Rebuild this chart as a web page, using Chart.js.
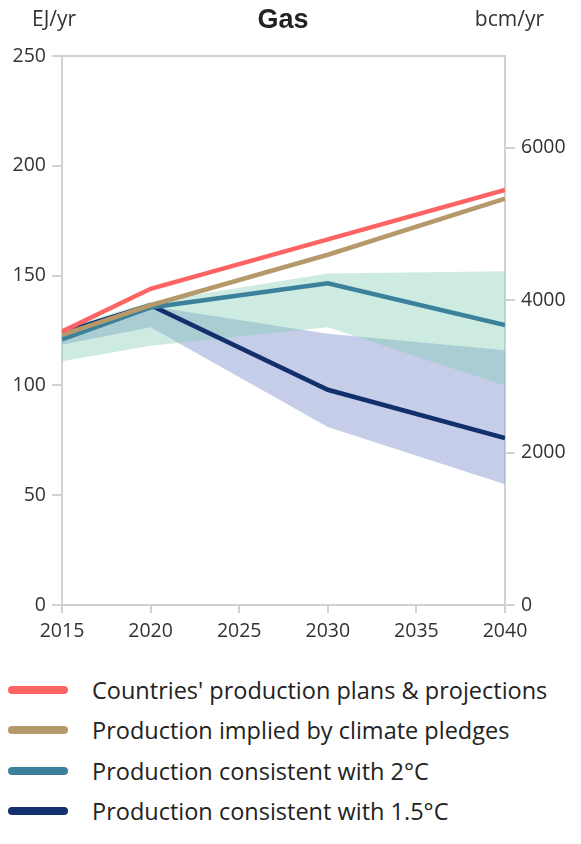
<!DOCTYPE html>
<html>
<head>
<meta charset="utf-8">
<script src="https://cdn.jsdelivr.net/npm/chart.js@4"></script>
<style>
  body { margin: 0; background: #fff; font-family: "Open Sans", sans-serif; }
  #wrap { width: 581px; height: 650px; }
  #legend { list-style: none; margin: 20px 0 0 0; padding: 0; }
  #legend li { position: relative; height: 40.3px; line-height: 40.3px; padding-left: 92px; font-size: 23.5px; color: #222; white-space: nowrap; }
  #legend li span { position: absolute; left: 8px; top: 16px; width: 60px; height: 8px; border-radius: 4px; }
</style>
</head>
<body>
<div id="wrap"><canvas id="chart" width="581" height="650"></canvas></div>
<ul id="legend"></ul>
<script>
// Gas production, EJ/yr (left) with bcm/yr on the right
const years = [2015, 2020, 2030, 2040];

const plans       = [124.5, 144, 166.5, 189];
const pledges     = [123, 136.5, 159.5, 185];
const twoDegrees  = [121, 135.5, 146.5, 127.5];
const onePointFive = [124, 136.5, 98, 76];

// ranges around the 2°C and 1.5°C pathways
const twoUpper = [126, 138, 151, 152];
const twoLower = [111, 118, 126.5, 100];
const oneFiveUpper = [124, 136, 123.5, 116];
const oneFiveLower = [118.5, 126.5, 81, 55];

const leftTicks = [0, 50, 100, 150, 200, 250];
const rightTicks = [0, 2000, 4000, 6000];
const xTicks = [2015, 2020, 2025, 2030, 2035, 2040];

const seriesNames = [
    "Countries' production plans & projections",
    'Production implied by climate pledges',
    'Production consistent with 2°C',
    'Production consistent with 1.5°C'
];
const seriesColors = ['#ff6464', '#b5996a', '#3b819c', '#12306b'];

const BCM_PER_EJ = 28.8;
const AXIS_GREY = '#d2d2d2';
const TEXT = '#333333';
const FONT = '"Open Sans", sans-serif';

const toPoints = (vals) => vals.map((v, i) => ({ x: years[i], y: v }));

const lineSet = (i, vals) => ({
    label: seriesNames[i],
    data: toPoints(vals),
    borderColor: seriesColors[i],
    backgroundColor: seriesColors[i],
    borderWidth: 4.5,
    pointRadius: 0,
    tension: 0,
    fill: false
});

const bandSet = (label, vals, fill, color) => ({
    label: label,
    data: toPoints(vals),
    borderWidth: 0,
    borderColor: 'transparent',
    backgroundColor: color,
    pointRadius: 0,
    tension: 0,
    fill: fill
});

const datasets = [
    lineSet(0, plans),
    lineSet(1, pledges),
    lineSet(2, twoDegrees),
    lineSet(3, onePointFive),
    bandSet('2C upper', twoUpper, '+1', 'rgba(130, 205, 180, 0.4)'),
    bandSet('2C lower', twoLower, false, 'transparent'),
    bandSet('1.5C upper', oneFiveUpper, '+1', 'rgba(140, 155, 210, 0.5)'),
    bandSet('1.5C lower', oneFiveLower, false, 'transparent')
];

// header texts and the top edge of the frame
const framePlugin = {
    id: 'frame',
    afterDraw(chart) {
        const ctx = chart.ctx;
        const area = chart.chartArea;
        ctx.save();
        ctx.strokeStyle = AXIS_GREY;
        ctx.lineWidth = 2;
        ctx.beginPath();
        ctx.moveTo(area.left, area.top);
        ctx.lineTo(area.right, area.top);
        ctx.stroke();

        ctx.textBaseline = 'middle';
        ctx.fillStyle = TEXT;
        ctx.font = '21px ' + FONT;
        ctx.textAlign = 'left';
        ctx.fillText('EJ/yr', 32, 20);
        ctx.textAlign = 'right';
        ctx.fillText('bcm/yr', 544, 20);
        ctx.fillStyle = '#222';
        ctx.font = 'bold 27px "Liberation Sans", Arial, sans-serif';
        ctx.textAlign = 'center';
        ctx.fillText('Gas', 283, 21);
        ctx.restore();
    }
};

const tickFont = { family: FONT, size: 19.5 };

new Chart(document.getElementById('chart'), {
    type: 'line',
    data: { datasets: datasets },
    options: {
        responsive: false,
        animation: false,
        layout: { padding: { top: 56, left: 0, right: 0, bottom: 0 } },
        plugins: {
            legend: { display: false },
            tooltip: { enabled: false }
        },
        scales: {
            x: {
                type: 'linear',
                min: 2015,
                max: 2040,
                afterBuildTicks: (axis) => { axis.ticks = xTicks.map(v => ({ value: v })); },
                afterFit: (axis) => { axis.height = 45; },
                grid: { drawOnChartArea: false, color: AXIS_GREY, lineWidth: 2, tickLength: 8 },
                border: { color: AXIS_GREY, width: 2 },
                ticks: { color: TEXT, font: tickFont, padding: 7, maxRotation: 0, callback: (v) => String(v) }
            },
            y: {
                position: 'left',
                min: 0,
                max: 250,
                afterBuildTicks: (axis) => { axis.ticks = leftTicks.map(v => ({ value: v })); },
                afterFit: (axis) => { axis.width = 62; },
                grid: { drawOnChartArea: false, color: AXIS_GREY, lineWidth: 2, tickLength: 10 },
                border: { color: AXIS_GREY, width: 2 },
                ticks: { color: TEXT, font: tickFont, padding: 6 }
            },
            y2: {
                position: 'right',
                min: 0,
                max: 250 * BCM_PER_EJ,
                afterBuildTicks: (axis) => { axis.ticks = rightTicks.map(v => ({ value: v })); },
                afterFit: (axis) => { axis.width = 76; },
                grid: { drawOnChartArea: false, color: AXIS_GREY, lineWidth: 2, tickLength: 10 },
                border: { color: AXIS_GREY, width: 2 },
                ticks: { color: TEXT, font: tickFont, padding: 6, callback: (v) => String(v) }
            }
        }
    },
    plugins: [framePlugin]
});

// legend built from the series names and colours
const legend = document.getElementById('legend');
seriesNames.forEach((name, i) => {
    const li = document.createElement('li');
    const sw = document.createElement('span');
    sw.style.background = seriesColors[i];
    li.appendChild(sw);
    li.appendChild(document.createTextNode(name));
    legend.appendChild(li);
});
</script>
</body>
</html>
